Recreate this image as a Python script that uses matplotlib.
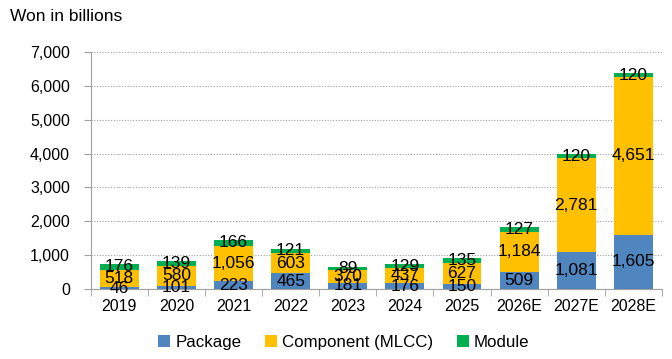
import matplotlib
matplotlib.use("Agg")
import matplotlib.pyplot as plt
import numpy as np
from matplotlib.ticker import FuncFormatter

plt.rcParams['font.family'] = ['Liberation Sans', 'DejaVu Sans']

years = ["2019", "2020", "2021", "2022", "2023", "2024", "2025", "2026E", "2027E", "2028E"]
package = [46, 101, 223, 465, 181, 176, 150, 509, 1081, 1605]
component = [518, 580, 1056, 603, 370, 437, 627, 1184, 2781, 4651]
module = [176, 139, 166, 121, 89, 129, 135, 127, 120, 120]

colors = ["#4F86C0", "#FFC000", "#00B050"]
names = ["Package", "Component (MLCC)", "Module"]

fig = plt.figure(figsize=(6.72, 3.59), dpi=100)
ax = fig.add_axes([0.135, 0.195, 0.85, 0.66])

x = np.arange(len(years))
w = 0.68
bottom = np.zeros(len(years))
for vals, c, n in zip([package, component, module], colors, names):
    vals = np.array(vals, dtype=float)
    ax.bar(x, vals, w, bottom=bottom, color=c, label=n, zorder=3)
    for xi, b, v in zip(x, bottom, vals):
        ax.text(xi, b + v / 2, f"{int(v):,}", ha="center", va="center",
                fontsize=12.5, color="black", zorder=4)
    bottom += vals

ax.set_ylim(0, 7000)
ax.set_xlim(-0.5, len(years) - 0.5)
ax.set_yticks(np.arange(0, 7001, 1000))
ax.yaxis.set_major_formatter(FuncFormatter(lambda v, p: f"{int(v):,}"))
ax.yaxis.grid(True, linestyle=(0, (1, 1.5)), color="#A0A0A0", linewidth=0.8, zorder=0)
ax.set_xticks(x)
ax.set_xticklabels(years)
ax.set_xticks(np.arange(-0.5, len(years), 1), minor=True)
ax.tick_params(axis="x", which="major", length=0, labelsize=11.5, pad=7)
ax.tick_params(axis="x", which="minor", length=5, color="#A0A0A0", direction="out")
ax.tick_params(axis="y", labelsize=11.5, length=5, color="#A0A0A0", pad=10)
for s in ["top", "right"]:
    ax.spines[s].set_visible(False)
ax.spines["left"].set_color("#A0A0A0")
ax.spines["bottom"].set_color("#A0A0A0")

fig.text(0.015, 0.955, "Won in billions", fontsize=12.5, ha="left", va="center")

ax.legend(loc="upper center", bbox_to_anchor=(0.4435, -0.13), ncol=3, frameon=False,
          fontsize=12.2, handlelength=0.7, handleheight=0.7, handletextpad=0.3,
          columnspacing=1.4)

fig.savefig("out.png", dpi=100)
